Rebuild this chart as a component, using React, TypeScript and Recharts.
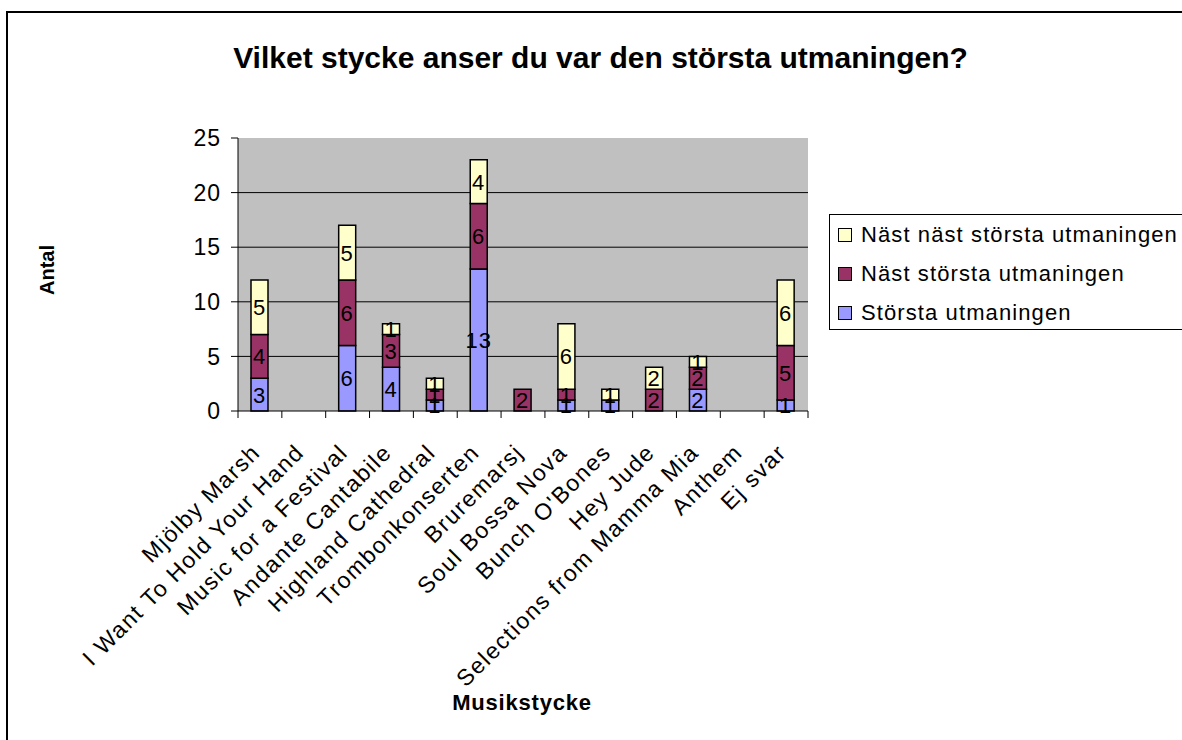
import React from 'react';
import { BarChart, Bar, XAxis, YAxis, CartesianGrid, LabelList } from 'recharts';

const categories = [
  'Mjölby Marsh',
  'I Want To Hold Your Hand',
  'Music for a Festival',
  'Andante Cantabile',
  'Highland Cathedral',
  'Trombonkonserten',
  'Bruremarsj',
  'Soul Bossa Nova',
  "Bunch O'Bones",
  'Hey Jude',
  'Selections from Mamma Mia',
  'Anthem',
  'Ej svar',
];
const storsta = [3, 0, 6, 4, 1, 13, 0, 1, 1, 0, 2, 0, 1];
const nast = [4, 0, 6, 3, 1, 6, 2, 1, 0, 2, 2, 0, 5];
const nastNast = [5, 0, 5, 1, 1, 4, 0, 6, 1, 2, 1, 0, 6];
const yTicks = [0, 5, 10, 15, 20, 25];
const gridValues = [5, 10, 15, 20];
const seriesKeys = ['s1', 's2', 's3'];
const seriesNames = ['Största utmaningen', 'Näst största utmaningen', 'Näst näst största utmaningen'];
const seriesColors = ['#9999FF', '#993366', '#FFFFCC'];

const data = categories.map((name, i) => ({
  name,
  s1: storsta[i],
  s2: nast[i],
  s3: nastNast[i],
}));

const FONT = '"Liberation Sans", Arial, sans-serif';
const W = 1182;
const H = 740;
const PLOT_L = 238;
const PLOT_R = 808;
const PLOT_T = 138;
const PLOT_B = 411;
const YW = 60;
const XH = 60;
const BAND = (PLOT_R - PLOT_L) / categories.length;

const XTick = (props: any) => {
  const { x, y, payload, index } = props;
  const left = x - BAND / 2;
  const right = x + BAND / 2;
  return (
    <g>
      <line x1={left} x2={left} y1={y} y2={y + 7} stroke="#000" strokeWidth={1} />
      {index === categories.length - 1 && (
        <line x1={right} x2={right} y1={y} y2={y + 7} stroke="#000" strokeWidth={1} />
      )}
      <text
        transform={`translate(${x - 10},${y + 31}) rotate(-45)`}
        textAnchor="end"
        dy="0.72em"
        fontSize={23}
        letterSpacing={1.6}
        fontFamily={FONT}
        fill="#000"
      >
        {payload.value}
      </text>
    </g>
  );
};

const SegLabel = (props: any) => {
  const { x, y, width, height, value } = props;
  if (!value) return null;
  return (
    <text
      x={Number(x) + Number(width) / 2}
      y={Number(y) + Number(height) / 2}
      dy="0.36em"
      textAnchor="middle"
      fontSize={22}
      letterSpacing={1}
      fontFamily={FONT}
      fill="#000"
    >
      {value}
    </text>
  );
};

const LegendBox = () => {
  const order = [2, 1, 0];
  return (
    <div
      style={{
        position: 'absolute',
        left: 829,
        top: 214,
        border: '1px solid #000',
        background: '#fff',
        width: 400,
        height: 116,
        boxSizing: 'border-box',
        paddingTop: 0,
        fontFamily: FONT,
      }}
    >
      {order.map((i) => (
        <div key={i} style={{ display: 'flex', alignItems: 'center', height: 39, paddingLeft: 8 }}>
          <span
            style={{
              display: 'inline-block',
              width: 12,
              height: 12,
              border: '1px solid #000',
              background: seriesColors[i],
              marginRight: 9,
            }}
          />
          <span style={{ fontSize: 22, letterSpacing: 1.1, color: '#000', whiteSpace: 'nowrap' }}>{seriesNames[i]}</span>
        </div>
      ))}
    </div>
  );
};

export default function App() {
  return (
    <div style={{ position: 'absolute', left: 0, top: 0, width: W, height: H, overflow: 'hidden', background: '#fff', fontFamily: FONT }}>
      <div
        style={{
          position: 'absolute',
          left: 6,
          top: 11,
          width: 1300,
          height: 900,
          border: '2px solid #000',
        }}
      />
      <div
        style={{
          position: 'absolute',
          left: 0,
          top: 41,
          width: 1201,
          textAlign: 'center',
          fontSize: 30,
          fontWeight: 'bold',
          color: '#000',
        }}
      >
        Vilket stycke anser du var den största utmaningen?
      </div>
      <div
        style={{
          position: 'absolute',
          left: 47,
          top: 270,
          transform: 'translate(-50%, -50%) rotate(-90deg)',
          fontSize: 20,
          fontWeight: 'bold',
          whiteSpace: 'nowrap',
        }}
      >
        Antal
      </div>
      <div
        style={{
          position: 'absolute',
          left: 522,
          top: 703,
          transform: 'translate(-50%, -50%)',
          fontSize: 22,
          letterSpacing: 0.8,
          fontWeight: 'bold',
          whiteSpace: 'nowrap',
        }}
      >
        Musikstycke
      </div>
      <div style={{ position: 'absolute', left: 0, top: 0 }}>
        <BarChart
          width={W}
          height={H}
          data={data}
          margin={{ top: PLOT_T, right: W - PLOT_R, bottom: H - PLOT_B - XH, left: PLOT_L - YW }}
          barSize={17}
        >
          <CartesianGrid
            horizontal
            vertical={false}
            horizontalValues={gridValues}
            stroke="#000"
            strokeWidth={1}
            fill="#C0C0C0"
            fillOpacity={1}
          />
          <XAxis
            dataKey="name"
            height={XH}
            interval={0}
            tickLine={false}
            tickSize={0}
            tickMargin={0}
            axisLine={{ stroke: '#000', strokeWidth: 1 }}
            tick={<XTick />}
          />
          <XAxis
            xAxisId="top"
            dataKey="name"
            orientation="top"
            height={0}
            tick={false}
            tickLine={false}
            axisLine={{ stroke: '#808080', strokeWidth: 2 }}
          />
          <YAxis
            width={YW}
            domain={[0, 25]}
            ticks={yTicks}
            interval={0}
            tickSize={7}
            tickMargin={10}
            tickLine={{ stroke: '#000' }}
            axisLine={{ stroke: '#000', strokeWidth: 1 }}
            tick={{ fontSize: 23, letterSpacing: 1, fill: '#000', fontFamily: FONT }}
          />
          <YAxis
            yAxisId="right"
            orientation="right"
            width={0}
            domain={[0, 25]}
            tick={false}
            tickLine={false}
            axisLine={{ stroke: '#808080', strokeWidth: 2 }}
          />
          {seriesKeys.map((k, i) => (
            <Bar
              key={k}
              dataKey={k}
              name={seriesNames[i]}
              stackId="a"
              fill={seriesColors[i]}
              stroke="#000"
              strokeWidth={1.5}
              isAnimationActive={false}
            >
              <LabelList dataKey={k} content={<SegLabel />} />
            </Bar>
          ))}
        </BarChart>
      </div>
      <LegendBox />
    </div>
  );
}
